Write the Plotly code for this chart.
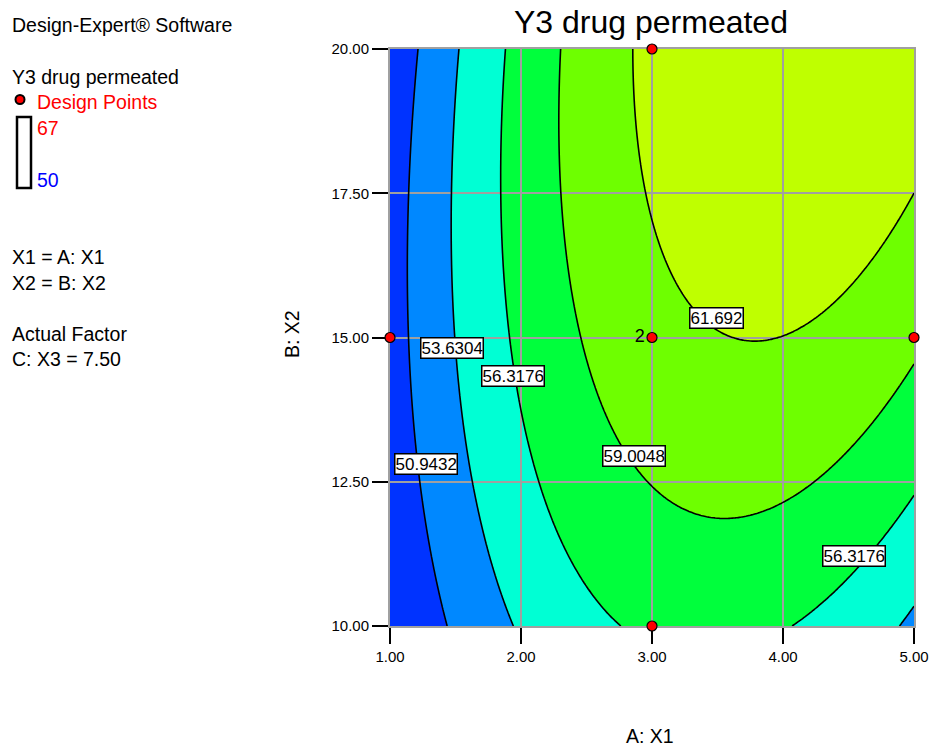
import numpy as np
import plotly.graph_objects as go

# Quadratic response surface for Y3 in coded factors (C: X3 held at 7.50)
model_terms = ["Intercept", "A", "B", "AB", "A^2", "B^2"]
model_coefs = [60.78, 4.86, 2.77, 2.30, -6.16, -1.30]

# Factor ranges in actual units
x1_range = [1.0, 5.0]
x2_range = [10.0, 20.0]

# Contour levels and the fill colour of each band (lowest band first)
contour_levels = [50.9432, 53.6304, 56.3176, 59.0048, 61.692]
band_colors = ["#0033FF", "#0088FF", "#00FFD4", "#00FF3C", "#6EFF00", "#BFFF00"]

# Design points (replicate count shown beside the centre point)
design_x1 = [3.0, 1.0, 3.0, 5.0, 3.0]
design_x2 = [20.0, 15.0, 15.0, 15.0, 10.0]
design_reps = ["", "", "2", "", ""]

# Tick values
x_ticks = [1.0, 2.0, 3.0, 4.0, 5.0]
y_ticks = [10.0, 12.5, 15.0, 17.5, 20.0]

# Where each contour value label sits: (level index, X1, X2)
label_spots = [
    (1, 1.477, 14.82),
    (2, 1.939, 14.33),
    (0, 1.275, 12.81),
    (3, 2.866, 12.95),
    (4, 3.490, 15.34),
    (2, 4.540, 11.21),
]

FONT = "Liberation Sans, Arial, sans-serif"

# Evaluate the model on a fine grid of actual factor values
x1 = np.linspace(x1_range[0], x1_range[1], 241)
x2 = np.linspace(x2_range[0], x2_range[1], 241)
X1, X2 = np.meshgrid(x1, x2)
A = (X1 - 3.0) / 2.0
B = (X2 - 15.0) / 5.0
c = dict(zip(model_terms, model_coefs))
Z = (c["Intercept"] + c["A"] * A + c["B"] * B + c["AB"] * A * B
     + c["A^2"] * A ** 2 + c["B^2"] * B ** 2)

step = contour_levels[1] - contour_levels[0]
n_b = len(band_colors) - 1
fill_scale = [[i / n_b, col] for i, col in enumerate(band_colors)]

fig = go.Figure()

# Filled bands (bottom subplot)
fig.add_trace(go.Contour(
    x=x1, y=x2, z=Z, autocontour=False,
    contours=dict(start=contour_levels[0], end=contour_levels[-1], size=step,
                  coloring="fill", showlines=False),
    colorscale=fill_scale, line=dict(width=0), showscale=False,
    hoverinfo="skip", xaxis="x", yaxis="y",
))

# Contour lines drawn above the grid (top subplot)
fig.add_trace(go.Contour(
    x=x1, y=x2, z=Z, autocontour=False,
    contours=dict(start=contour_levels[0], end=contour_levels[-1], size=step,
                  coloring="none"),
    line=dict(color="black", width=1.6), showscale=False,
    hoverinfo="skip", xaxis="x2", yaxis="y2",
))

# Design points
fig.add_trace(go.Scatter(
    x=design_x1, y=design_x2, mode="markers+text",
    text=design_reps, textposition="middle left",
    textfont=dict(family=FONT, size=18, color="black"),
    marker=dict(size=10, color="#FF0000", line=dict(color="black", width=1.2)),
    cliponaxis=False, hoverinfo="skip", xaxis="x2", yaxis="y2",
))

tick_axis = dict(showgrid=False, zeroline=False, automargin=False,
                 ticks="outside", ticklen=16, tickwidth=1.5, tickcolor="black",
                 showline=True, linecolor="#A0A0A0", linewidth=2, mirror=True,
                 tickfont=dict(family=FONT, size=15, color="black"))
grid_axis = dict(showgrid=True, gridcolor="#A0A0A0", gridwidth=2,
                 showticklabels=False, ticks="", zeroline=False,
                 showline=False, automargin=False)

fig.update_layout(
    width=932, height=749,
    margin=dict(l=390, r=18, t=49, b=123, autoexpand=False),
    paper_bgcolor="white", plot_bgcolor="rgba(0,0,0,0)",
    showlegend=False,
    font=dict(family=FONT, color="black"),
    xaxis=dict(range=x1_range, domain=[0, 1], anchor="y", tickvals=x_ticks,
               ticktext=[f"{v:.2f}" for v in x_ticks], **tick_axis),
    yaxis=dict(range=x2_range, domain=[0, 1], anchor="x", tickvals=y_ticks,
               ticktext=[f"{v:.2f}" for v in y_ticks], **tick_axis),
    xaxis2=dict(range=x1_range, domain=[0, 1], anchor="y2", tickvals=x_ticks,
                **grid_axis),
    yaxis2=dict(range=x2_range, domain=[0, 1], anchor="x2", tickvals=y_ticks,
                **grid_axis),
)

# Contour value labels in white boxes
for idx, lx, ly in label_spots:
    fig.add_annotation(
        x=lx, y=ly, xref="x2", yref="y2", text=f"{contour_levels[idx]:g}",
        showarrow=False, bgcolor="white", bordercolor="black", borderwidth=1.5,
        borderpad=0, font=dict(family=FONT, size=17, color="black"),
    )

# Page placement helpers (pixels -> paper fractions of the plot area)
PL, PR, PT, PB = 390, 914, 49, 626


def px(x):
    return (x - PL) / (PR - PL)


def py(y):
    return (PB - y) / (PB - PT)


def note(text, x, y, size=19.5, color="black", xanchor="left", angle=0):
    fig.add_annotation(
        x=px(x), y=py(y), xref="paper", yref="paper", text=text,
        showarrow=False, xanchor=xanchor, yanchor="middle", textangle=angle,
        font=dict(family=FONT, size=size, color=color),
    )


note("Y3 drug permeated", 651, 22, size=32, xanchor="center")
note("Design-Expert® Software", 10, 25)
note("Y3 drug permeated", 10, 77)
note("Design Points", 35, 102, color="#FF0000")
note("67", 35, 128, color="#FF0000")
note("50", 35, 180, color="#0000FF")
note("X1 = A: X1", 10, 257)
note("X2 = B: X2", 10, 283)
note("Actual Factor", 10, 334)
note("C: X3 = 7.50", 10, 359)
note("B: X2", 292, 334, xanchor="center", angle=-90)
note("A: X1", 650, 736, xanchor="center")

# Legend glyphs: design-point dot and the response range bar
fig.add_shape(type="circle", xref="paper", yref="paper",
              x0=px(15.5), x1=px(24.5), y0=py(104), y1=py(95),
              fillcolor="#FF0000", line=dict(color="black", width=2))
fig.add_shape(type="rect", xref="paper", yref="paper",
              x0=px(17), x1=px(31), y0=py(188), y1=py(117),
              fillcolor="white", line=dict(color="black", width=2.5))

fig.write_html("out.html")
